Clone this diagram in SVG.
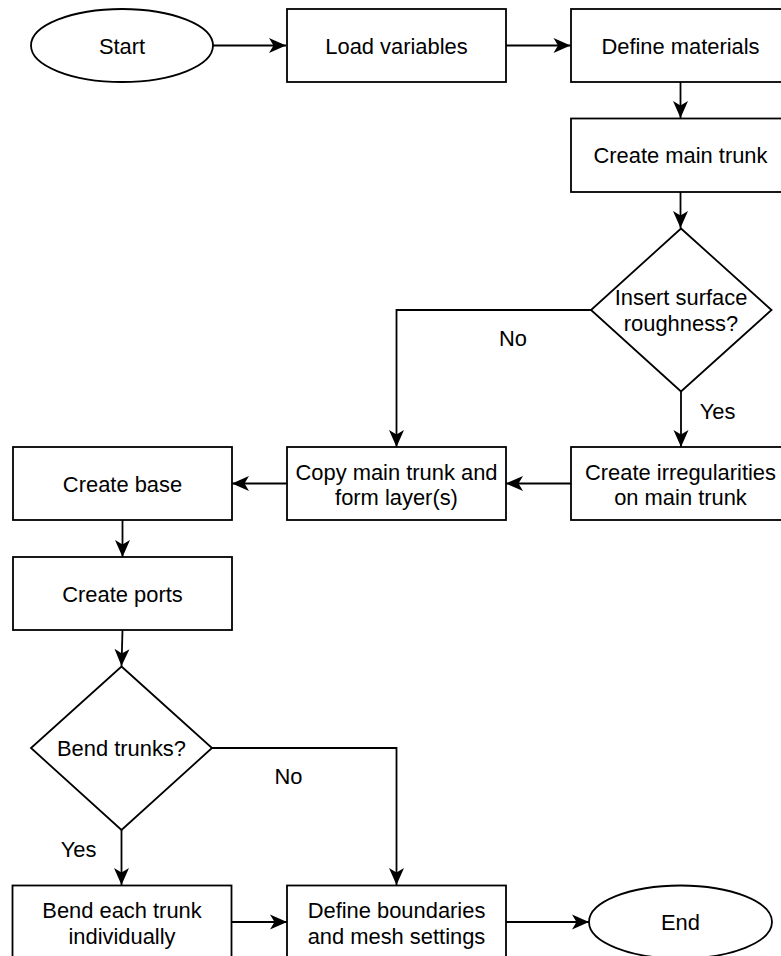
<svg xmlns="http://www.w3.org/2000/svg" width="781" height="956" viewBox="0 0 781 956">
<defs>
<style>
.s{fill:#fff;stroke:#000;stroke-width:1.8}
.c{fill:none;stroke:#000;stroke-width:1.8}
text{font-family:"Liberation Sans",Arial,sans-serif;font-size:21.9px;fill:#000;text-anchor:middle}
</style>
<marker id="arr" markerUnits="userSpaceOnUse" markerWidth="20" markerHeight="18" viewBox="-18 -9 20 18" refX="0" refY="0" orient="auto">
<path d="M0,0 L-17,-7.5 L-12.5,0 L-17,7.5 Z" fill="#000"/>
</marker>
</defs>
<rect width="781" height="956" fill="#fff"/>
<g id="connectors">
<path class="c" d="M213,45.5 H286" marker-end="url(#arr)"/>
<path class="c" d="M506,45.5 H570.5" marker-end="url(#arr)"/>
<path class="c" d="M680.5,82 V118" marker-end="url(#arr)"/>
<path class="c" d="M680.5,192 V228" marker-end="url(#arr)"/>
<path class="c" d="M681,392 V447" marker-end="url(#arr)"/>
<path class="c" d="M591,310 H396.5 V447" marker-end="url(#arr)"/>
<path class="c" d="M571,483.5 H506" marker-end="url(#arr)"/>
<path class="c" d="M287,483.5 H232" marker-end="url(#arr)"/>
<path class="c" d="M122.5,520 V557" marker-end="url(#arr)"/>
<path class="c" d="M122.5,630 L121.5,666" marker-end="url(#arr)"/>
<path class="c" d="M121.5,830 V885" marker-end="url(#arr)"/>
<path class="c" d="M212,748 H396.5 V885" marker-end="url(#arr)"/>
<path class="c" d="M231,922 H287" marker-end="url(#arr)"/>
<path class="c" d="M506,922 H589" marker-end="url(#arr)"/>
<text x="513" y="345.5">No</text>
<text x="717.5" y="419">Yes</text>
<text x="288.5" y="783.5">No</text>
<text x="78.5" y="856.5">Yes</text>
</g>
<g id="start"><ellipse class="s" cx="122" cy="45.5" rx="91" ry="36.5"/><text x="122" y="53.5">Start</text></g>
<g id="load"><rect class="s" x="287" y="9" width="219" height="73"/><text x="396.5" y="53.5">Load variables</text></g>
<g id="define"><rect class="s" x="571" y="9" width="219" height="73"/><text x="680.5" y="53.5">Define materials</text></g>
<g id="trunk"><rect class="s" x="571" y="118.5" width="219" height="73.5"/><text x="680.5" y="163">Create main trunk</text></g>
<g id="roughness"><polygon class="s" points="681,228.5 771.5,310 681,391.5 591,310"/><text x="681" y="305">Insert surface</text><text x="681" y="330.5">roughness?</text></g>
<g id="irregularities"><rect class="s" x="571" y="447" width="219" height="73"/><text x="680.5" y="479.5">Create irregularities</text><text x="680.5" y="505">on main trunk</text></g>
<g id="copy"><rect class="s" x="287" y="447" width="219" height="73"/><text x="396.5" y="479.5">Copy main trunk and</text><text x="396.5" y="505">form layer(s)</text></g>
<g id="base"><rect class="s" x="13" y="447" width="219" height="73"/><text x="122.5" y="491.5">Create base</text></g>
<g id="ports"><rect class="s" x="13" y="557" width="219" height="73"/><text x="122.5" y="601.5">Create ports</text></g>
<g id="bend"><polygon class="s" points="121.5,666.5 212,748 121.5,830 31,748"/><text x="121.5" y="756">Bend trunks?</text></g>
<g id="bendeach"><rect class="s" x="12.5" y="885.5" width="219" height="73"/><text x="122" y="918">Bend each trunk</text><text x="122" y="943.5">individually</text></g>
<g id="boundaries"><rect class="s" x="287" y="885.5" width="219" height="73"/><text x="396.5" y="918">Define boundaries</text><text x="396.5" y="943.5">and mesh settings</text></g>
<g id="end"><ellipse class="s" cx="680.5" cy="922" rx="91.5" ry="36.5"/><text x="680.5" y="930">End</text></g>
</svg>
